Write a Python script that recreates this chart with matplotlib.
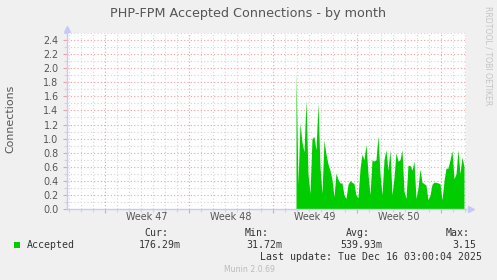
import matplotlib
matplotlib.use("Agg")
import matplotlib.pyplot as plt
import numpy as np
from matplotlib.ticker import MultipleLocator, FixedLocator
import matplotlib.transforms as mtrans

# ---------------- data ----------------
title = "PHP-FPM Accepted Connections - by month"
ylabel = "Connections"
series_name = "Accepted"
week_labels = ["Week 47", "Week 48", "Week 49", "Week 50"]
# days relative to "now" (0) ; window covers 33.25 days
window_days = 33.25
week_start_last = -50 / 24.0         # start of the week after "Week 50"
data_start = -340 / 24.0             # first sample time (days)
data_step = 4 / 24.0                 # 4-hour buckets
accepted = [
    1.98, 0.35, 1.22, 0.95, 0.81, 1.55, 0.50, 0.22, 1.00, 1.03,
    0.84, 1.50, 0.60, 0.22, 0.98, 0.78, 0.64, 0.55, 0.42, 0.17,
    0.51, 0.42, 0.37, 0.37, 0.20, 0.15, 0.35, 0.40, 0.38, 0.36,
    0.20, 0.16, 0.57, 0.78, 0.70, 0.92, 0.50, 0.20, 0.70, 0.68,
    0.70, 1.04, 0.50, 0.20, 0.70, 0.84, 0.55, 0.84, 0.20, 0.45,
    0.80, 0.68, 0.70, 0.84, 0.25, 0.15, 0.62, 0.62, 0.55, 0.68,
    0.15, 0.30, 0.57, 0.38, 0.36, 0.34, 0.13, 0.20, 0.35, 0.38,
    0.38, 0.37, 0.36, 0.13, 0.40, 0.58, 0.58, 0.70, 0.83, 0.43,
    0.50, 0.84, 0.50, 0.74, 0.60,
]
stat_names = ["Cur:", "Min:", "Avg:", "Max:"]
stat_values = ["176.29m", "31.72m", "539.93m", "3.15"]
last_update = "Last update: Tue Dec 16 03:00:04 2025"
footer = "Munin 2.0.69"
side_text = "RRDTOOL / TOBI OETIKER"
y_max = 2.5

# ---------------- style ----------------
W, H = 497, 280
BG = "#F0F0F0"
GREEN = "#00CC00"
RED_GRID = "#F2A0A0"
GRAY_GRID = "#D4D4D4"
AXIS_COL = "#C8C8F8"
TXT = "#555555"

fig = plt.figure(figsize=(W / 100, H / 100), dpi=100, facecolor=BG)
ax = fig.add_axes([67 / W, (H - 209) / H, 399 / W, 176 / H])
ax.set_facecolor("white")

x = data_start + data_step * np.arange(len(accepted))
y = np.array(accepted)
xf = np.concatenate([[x[0]], x])
yf = np.concatenate([[0.0], y])
ax.fill_between(xf, 0, yf, color=GREEN, linewidth=0, zorder=3)

ax.set_xlim(-window_days, 0)
ax.set_ylim(0, y_max)

# grid
week_bounds = week_start_last - 7 * np.arange(0, 5)
days = week_start_last - np.arange(-2, 35)
days = days[(days > -window_days) & (days < 0.3)]
for d in days:
    if np.min(np.abs(week_bounds - d)) < 1e-6:
        continue
    ax.axvline(d, color=GRAY_GRID, lw=0.8, ls=(0, (1, 2)), zorder=1)
for wb in week_bounds:
    ax.axvline(wb, color=RED_GRID, lw=0.8, ls=(0, (1, 2)), zorder=2)
for v in np.arange(0.1, y_max + 0.01, 0.2):
    ax.axhline(v, color=GRAY_GRID, lw=0.8, ls=(0, (1, 2)), zorder=1)
for v in np.arange(0.2, y_max - 0.05, 0.2):
    ax.axhline(v, color=RED_GRID, lw=0.8, ls=(0, (1, 2)), zorder=2)

# ticks
ax.yaxis.set_major_locator(MultipleLocator(0.2))
ax.yaxis.set_minor_locator(MultipleLocator(0.1))
ax.yaxis.set_major_formatter(matplotlib.ticker.FuncFormatter(lambda v, p: f"{v:.1f}"))
ax.tick_params(axis="y", which="major", length=3, width=0.8, color=RED_GRID,
               labelsize=6.9, labelcolor=TXT, pad=3)
ax.tick_params(axis="y", which="minor", length=2, width=0.8, color=GRAY_GRID)
ax.xaxis.set_major_locator(FixedLocator(week_bounds))
ax.xaxis.set_minor_locator(FixedLocator(days))
ax.tick_params(axis="x", which="major", length=3, width=0.8, color=RED_GRID,
               labelbottom=False)
ax.tick_params(axis="x", which="minor", length=2, width=0.8, color=GRAY_GRID)

for s in ["top", "right"]:
    ax.spines[s].set_visible(False)
for s in ["left", "bottom"]:
    ax.spines[s].set_color(AXIS_COL)
    ax.spines[s].set_linewidth(1.0)
    ax.spines[s].set_zorder(4)

# arrows
ax.plot([1.0 + 5 / 399], [0], marker=">", ms=4.5, color=AXIS_COL,
        transform=ax.transAxes, clip_on=False, zorder=5)
ax.plot([0], [1.0 + 4 / 176], marker="^", ms=4.5, color=AXIS_COL,
        transform=ax.transAxes, clip_on=False, zorder=5)

# week labels (centered in each week)
trans = mtrans.blended_transform_factory(ax.transData, ax.transAxes)
week_centers = sorted(week_bounds)[:-1]
for lbl, wb in zip(week_labels, week_centers):
    ax.text(wb + 3.5, -8 / 176, lbl, transform=trans, ha="center", va="center",
            fontsize=6.9, color=TXT)

# titles
fig.text(248 / W, 1 - 13 / H, title, ha="center", va="center", fontsize=9.2, color=TXT)
fig.text(10.5 / W, 1 - 119 / H, ylabel, ha="center", va="center", rotation=90,
         fontsize=7.9, color=TXT)
fig.text(488 / W, 1 - 56 / H, side_text, ha="center", va="center", rotation=270,
         fontsize=5.6, color="#C4C4C4")

# legend
mono = "DejaVu Sans Mono"
fs = 7.1
fig.patches.append(matplotlib.patches.Rectangle((14 / W, 1 - 247.5 / H), 6 / W, 5.5 / H,
                   transform=fig.transFigure, color=GREEN, lw=0))
fig.text(26.5 / W, 1 - 244.5 / H, series_name, ha="left", va="center",
         family=mono, fontsize=fs, color="#333333")
name_right = [168.5, 269, 369.5, 470]
val_right = [181, 282, 382, 476.5]
for n, nr, v, vr in zip(stat_names, name_right, stat_values, val_right):
    fig.text(nr / W, 1 - 233.3 / H, n, ha="right", va="center",
             family=mono, fontsize=fs, color="#333333")
    fig.text(vr / W, 1 - 244.5 / H, v, ha="right", va="center",
             family=mono, fontsize=fs, color="#333333")
fig.text(482.5 / W, 1 - 256.7 / H, last_update, ha="right", va="center",
         family=mono, fontsize=fs, color="#333333")
fig.text(249 / W, 1 - 269.3 / H, footer, ha="center", va="center",
         fontsize=5.6, color="#BBBBBB")

fig.savefig("out.png", dpi=100, facecolor=BG)
